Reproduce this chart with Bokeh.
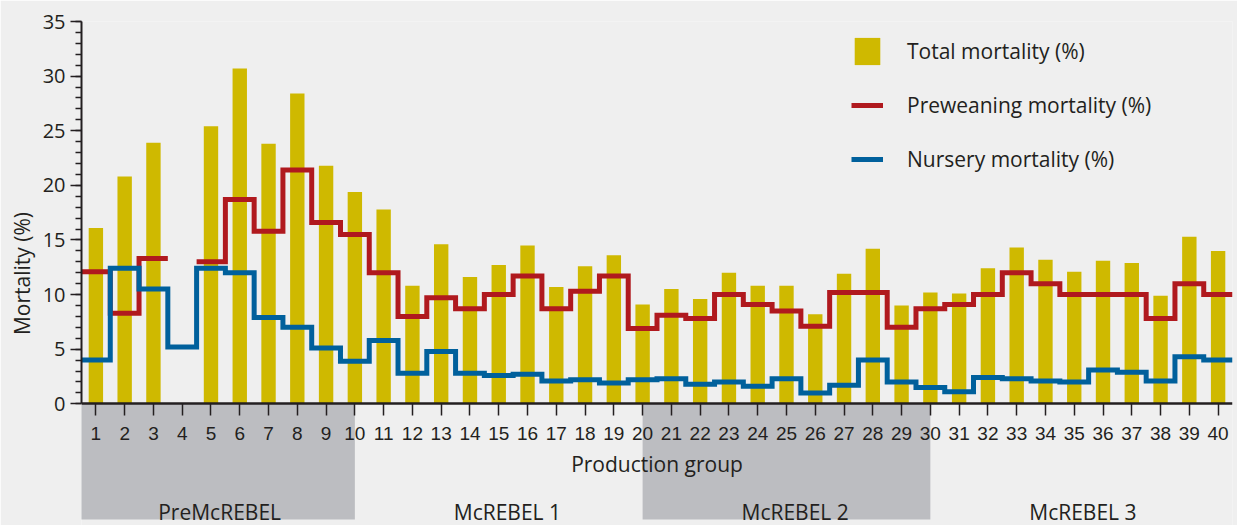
import math
from bokeh.plotting import figure
from bokeh.models import (Range1d, SingleIntervalTicker, FixedTicker, Legend, LegendItem)
from bokeh.core.properties import value
from bokeh.embed import file_html
from bokeh.resources import INLINE

nan = float("nan")

# ---- data -------------------------------------------------------------
groups = list(range(1, 41))
total_mortality = [16.1, 20.8, 23.9, nan, 25.4, 30.7, 23.8, 28.4, 21.8, 19.4,
                   17.8, 10.8, 14.6, 11.6, 12.7, 14.5, 10.7, 12.6, 13.6, 9.1,
                   10.5, 9.6, 12.0, 10.8, 10.8, 8.2, 11.9, 14.2, 9.0, 10.2,
                   10.1, 12.4, 14.3, 13.2, 12.1, 13.1, 12.9, 9.9, 15.3, 14.0]
preweaning_mortality = [12.1, 8.3, 13.3, nan, 13.0, 18.7, 15.8, 21.4, 16.6, 15.5,
                        12.0, 8.0, 9.7, 8.7, 10.0, 11.7, 8.7, 10.3, 11.7, 6.9,
                        8.1, 7.8, 10.0, 9.1, 8.5, 7.1, 10.2, 10.2, 7.0, 8.7,
                        9.1, 10.0, 12.0, 11.0, 10.0, 10.0, 10.0, 7.8, 11.0, 10.0]
nursery_mortality = [4.0, 12.4, 10.5, 5.2, 12.4, 12.0, 7.9, 7.0, 5.1, 3.9,
                     5.8, 2.8, 4.8, 2.8, 2.6, 2.7, 2.1, 2.2, 1.9, 2.2,
                     2.3, 1.8, 2.0, 1.6, 2.3, 1.0, 1.7, 4.0, 2.0, 1.5,
                     1.1, 2.4, 2.3, 2.1, 2.0, 3.1, 2.9, 2.1, 4.3, 4.0]
phases = ["PreMcREBEL", "McREBEL 1", "McREBEL 2", "McREBEL 3"]
phase_first = [1, 11, 21, 31]
phase_last = [10, 20, 30, 40]
phase_shaded = [True, False, True, False]

# ---- styles -----------------------------------------------------------
BG = "#efefef"
TXT = "#231f20"
YELLOW = "#cfb900"
RED = "#b0191e"
BLUE = "#00609c"
BAND = "#bcbdc1"
FONT = "Open Sans"
TICKFONT = "Liberation Sans"


def step_xy(vals):
    xs, ys = [], []
    for g, v in zip(groups, vals):
        xs += [g - 0.5, g + 0.5]
        ys += [v, v]
    return xs, ys


p = figure(width=1237, height=525, output_backend="svg", toolbar_location=None,
           x_range=Range1d(0.5, 40.5), y_range=Range1d(-11.14, 35),
           min_border_left=81, min_border_right=5, min_border_top=21, min_border_bottom=0)
p.background_fill_color = BG
p.border_fill_color = BG
p.outline_line_color = None
p.grid.visible = False

# phase bands below the axis
band_left = [max(f - 1, 0.45) for f, s in zip(phase_first, phase_shaded) if s]
band_right = [l for l, s in zip(phase_last, phase_shaded) if s]
p.quad(left=band_left, right=band_right, top=0, bottom=-10.59,
       fill_color=BAND, line_color=None)
label_x = [(f - 1 + l) / 2 + 0.3 for f, l in zip(phase_first, phase_last)]
p.text(x=label_x, y=[-9.9] * len(phases), text=phases,
       text_font=value(FONT), text_font_size="21px", text_color=TXT,
       text_align="center", text_baseline="alphabetic")

bars = p.vbar(x=groups, top=total_mortality, width=0.5, bottom=0,
              fill_color=YELLOW, line_color=None)

rx, ry = step_xy(preweaning_mortality)
red = p.line(rx, ry, line_color=RED, line_width=5, line_join="miter")
bx, by = step_xy(nursery_mortality)
blue = p.line(bx, by, line_color=BLUE, line_width=5, line_join="miter")

# y axis
ya = p.yaxis[0]
ya.bounds = (0, 35)
ya.ticker = SingleIntervalTicker(interval=5, num_minor_ticks=5)
ya.axis_line_width = 2
ya.axis_line_color = TXT
ya.major_tick_line_color = TXT
ya.minor_tick_line_color = TXT
ya.major_tick_line_width = 1.5
ya.minor_tick_line_width = 1.5
ya.major_tick_out = 11
ya.major_tick_in = 0
ya.minor_tick_out = 6
ya.minor_tick_in = 0
ya.major_label_text_font = FONT
ya.major_label_text_font_size = "20px"
ya.major_label_text_color = TXT
ya.major_label_standoff = 5
ya.axis_label = "Mortality (%)"
ya.axis_label_text_font = FONT
ya.axis_label_text_font_size = "21px"
ya.axis_label_text_font_style = "normal"
ya.axis_label_text_color = TXT
ya.axis_label_standoff = 4

# x axis
xa = p.xaxis[0]
xa.fixed_location = 0
xa.ticker = FixedTicker(ticks=groups)
xa.axis_line_width = 2.5
xa.axis_line_color = TXT
xa.major_tick_line_color = TXT
xa.major_tick_line_width = 1.5
xa.major_tick_out = 12
xa.major_tick_in = 0
xa.minor_tick_line_color = None
xa.major_label_text_font = TICKFONT
xa.major_label_text_font_size = "19px"
xa.major_label_text_color = TXT
xa.major_label_standoff = 11
xa.axis_label = "Production group"
xa.axis_label_text_font = FONT
xa.axis_label_text_font_size = "21px"
xa.axis_label_text_font_style = "normal"
xa.axis_label_text_color = TXT
xa.axis_label_standoff = 7

legend = Legend(items=[LegendItem(label="Total mortality (%)", renderers=[bars]),
                       LegendItem(label="Preweaning mortality (%)", renderers=[red]),
                       LegendItem(label="Nursery mortality (%)", renderers=[blue])],
                location=(770, 349), padding=0, margin=0, spacing=20,
                glyph_width=32, glyph_height=34, label_standoff=24,
                label_text_font=FONT, label_text_font_size="21px",
                label_text_color=TXT, border_line_color=None,
                background_fill_alpha=0)
p.add_layout(legend)

open("out.html", "w").write(file_html(p, INLINE))
